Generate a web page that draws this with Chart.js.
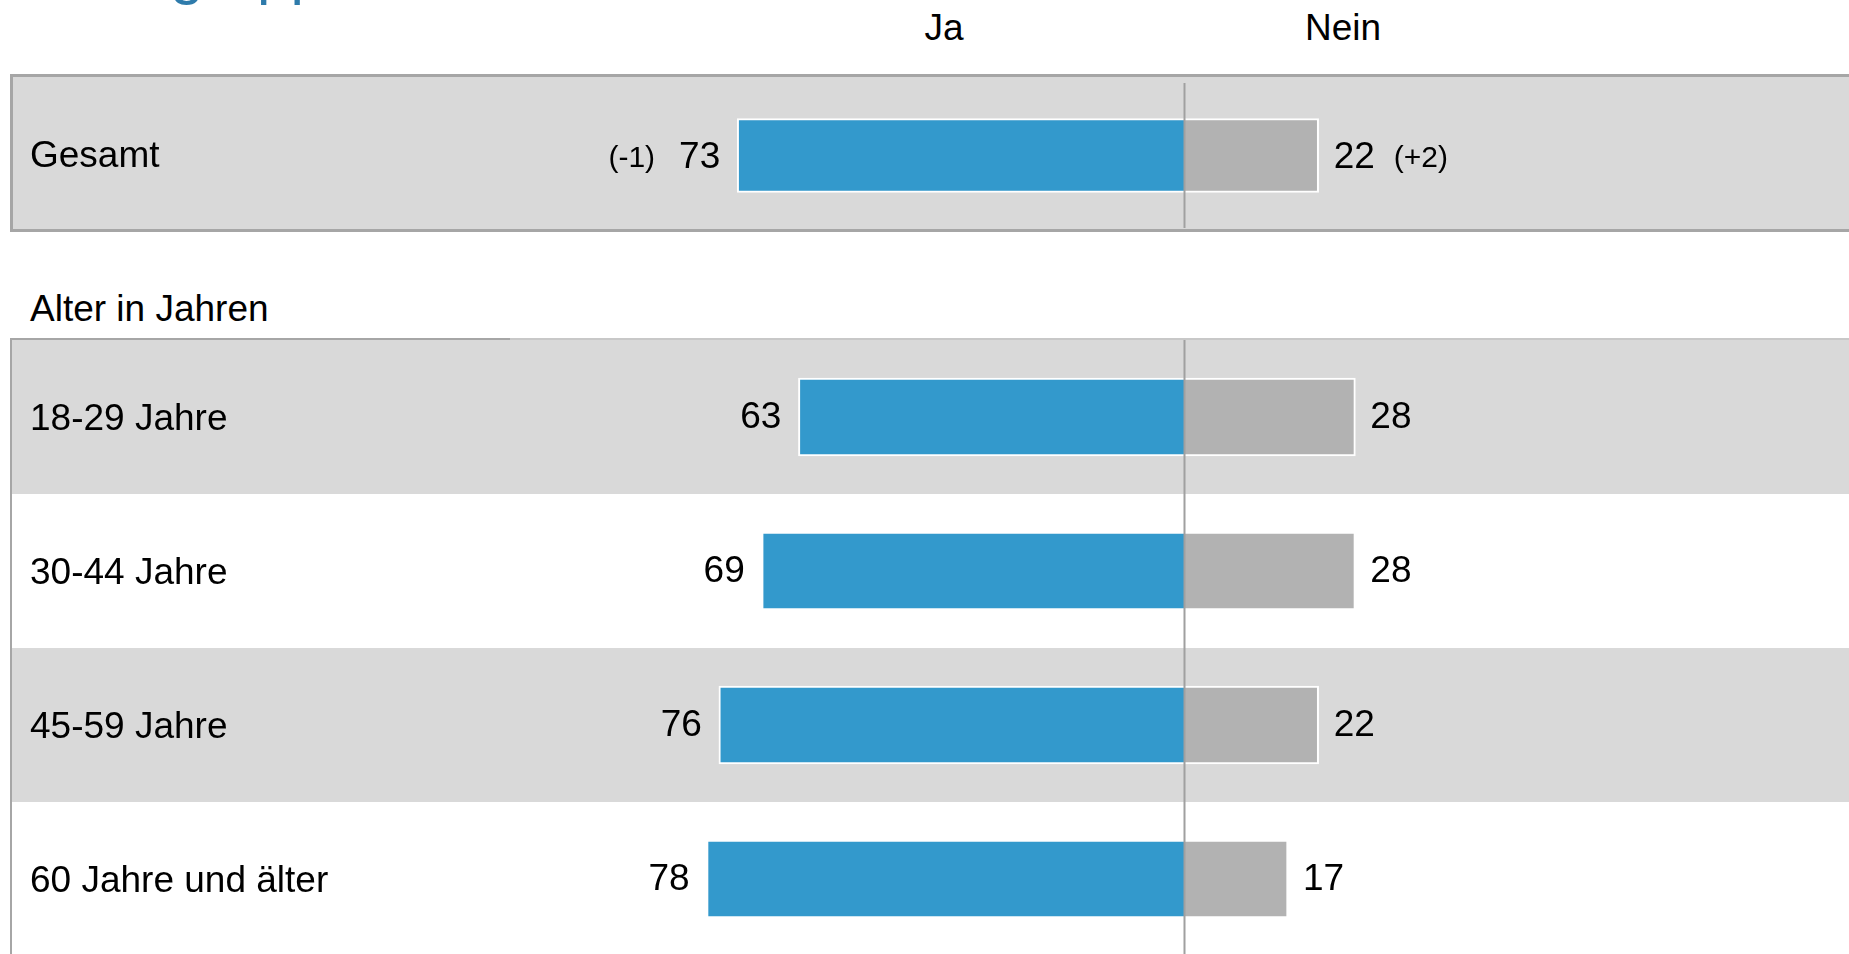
<!DOCTYPE html>
<html lang="de">
<head>
<meta charset="utf-8">
<title>Altersgruppen</title>
<script src="https://cdn.jsdelivr.net/npm/chart.js@4.4.1/dist/chart.umd.min.js"></script>
<style>
  html, body { margin: 0; padding: 0; background: #fff; }
  body {
    width: 1849px; height: 954px; overflow: hidden; position: relative;
    font-family: "Liberation Sans", Arial, sans-serif; color: #000;
  }
  .abs { position: absolute; white-space: nowrap; }
  #title { left: 17px; top: -57px; font-size: 60px; line-height: 60px; color: #2e7bab; }
  .head { top: 9px; width: 200px; text-align: center; font-size: 37px; line-height: 37px; }
  #box1 {
    left: 10px; top: 74px; width: 1860px; height: 152px;
    background: #d9d9d9; border: 3px solid #a6a6a6; border-right: none;
  }
  #section { left: 30px; top: 290px; font-size: 37px; line-height: 37px; }
  canvas { position: absolute; left: 0; }
  #c1 { top: 77px; }
  #c2 { top: 340px; }
  .rule { position: absolute; }
</style>
</head>
<body>
<div id="title" class="abs">Altersgruppen</div>
<div id="headJa" class="abs head" style="left:844px"></div>
<div id="headNein" class="abs head" style="left:1243px"></div>
<div id="box1" class="abs"></div>
<canvas id="c1" width="1849" height="152"></canvas>
<div id="section" class="abs">Alter in Jahren</div>
<canvas id="c2" width="1849" height="616"></canvas>
<div class="rule" style="left:10px;top:338px;width:2px;height:620px;background:#a6a6a6"></div>
<div class="rule" style="left:10px;top:338px;width:500px;height:2px;background:#a6a6a6"></div>
<div class="rule" style="left:510px;top:338px;width:1339px;height:2px;background:#c8c8c8"></div>

<script>
// data (percent)
const seriesNames = ["Ja", "Nein"];

const gesamtLabels = ["Gesamt"];
const gesamtJa = [73];
const gesamtNein = [22];
const gesamtJaDiff = [-1];
const gesamtNeinDiff = [2];

const ageGroups = ["18-29 Jahre", "30-44 Jahre", "45-59 Jahre", "60 Jahre und älter"];
const ageJa = [63, 69, 76, 78];
const ageNein = [28, 28, 22, 17];

const BLUE = "#3399cc";
const GREY = "#b2b2b2";
const FONT = '"Liberation Sans", Arial, sans-serif';

document.getElementById("headJa").textContent = seriesNames[0];
document.getElementById("headNein").textContent = seriesNames[1];

function formatDiff(v) {
  return v > 0 ? "(+" + v + ")" : "(" + v + ")";
}

// row bands, category labels, centre line and value labels
const rowDecor = {
  id: "rowDecor",
  beforeDatasetsDraw(chart, _args, opts) {
    if (!opts.bands) return;
    const { ctx, width } = chart;
    const y = chart.scales.y;
    const step = (chart.chartArea.bottom - chart.chartArea.top) / chart.data.labels.length;
    ctx.save();
    chart.data.labels.forEach((_, i) => {
      const c = y.getPixelForValue(i);
      ctx.fillStyle = opts.bands[i % opts.bands.length];
      ctx.fillRect(opts.bandLeft, c - step / 2, width - opts.bandLeft, step);
    });
    ctx.restore();
  },
  afterDatasetsDraw(chart, _args, opts) {
    const { ctx, chartArea } = chart;
    const x = chart.scales.x;
    const y = chart.scales.y;
    ctx.save();

    // centre line
    const x0 = Math.round(x.getPixelForValue(0)) + 0.5;
    ctx.strokeStyle = "#a0a0a0";
    ctx.lineWidth = 2;
    ctx.beginPath();
    ctx.moveTo(x0, chartArea.top);
    ctx.lineTo(x0, chartArea.bottom);
    ctx.stroke();

    ctx.fillStyle = "#000";
    ctx.textBaseline = "middle";

    // category labels
    ctx.font = "37px " + FONT;
    ctx.textAlign = "left";
    chart.data.labels.forEach((label, i) => {
      ctx.fillText(label, 30, y.getPixelForValue(i) + opts.labelShift);
    });

    // values
    const jaMeta = chart.getDatasetMeta(0);
    const neinMeta = chart.getDatasetMeta(1);
    const dy = opts.valueShift || 0;
    chart.data.labels.forEach((_, i) => {
      const ja = jaMeta.data[i];
      const nein = neinMeta.data[i];
      const jaText = String(Math.abs(chart.data.datasets[0].data[i]));
      const neinText = String(chart.data.datasets[1].data[i]);

      ctx.font = "37px " + FONT;
      ctx.textAlign = "right";
      ctx.fillText(jaText, ja.x - 17, ja.y + dy);
      const jaW = ctx.measureText(jaText).width;
      ctx.textAlign = "left";
      ctx.fillText(neinText, nein.x + 15, nein.y + dy);
      const neinW = ctx.measureText(neinText).width;

      ctx.font = "30px " + FONT;
      if (opts.jaDiff && opts.jaDiff[i] != null) {
        ctx.textAlign = "right";
        ctx.fillText(formatDiff(opts.jaDiff[i]), ja.x - 17 - jaW - 24, ja.y + dy + 1);
      }
      if (opts.neinDiff && opts.neinDiff[i] != null) {
        ctx.textAlign = "left";
        ctx.fillText(formatDiff(opts.neinDiff[i]), nein.x + 15 + neinW + 19, nein.y + dy + 1);
      }
    });
    ctx.restore();
  },
};

function makeChart(id, labels, ja, nein, thickness, decor, padding) {
  return new Chart(document.getElementById(id), {
    type: "bar",
    data: {
      labels: labels,
      datasets: [
        {
          label: seriesNames[0],
          data: ja.map((v) => -v),
          backgroundColor: BLUE,
          borderColor: "#ffffff",
          borderWidth: 2,
          borderSkipped: "start",
          barThickness: thickness,
        },
        {
          label: seriesNames[1],
          data: nein,
          backgroundColor: GREY,
          borderColor: "#ffffff",
          borderWidth: 2,
          borderSkipped: "start",
          barThickness: thickness,
        },
      ],
    },
    options: {
      indexAxis: "y",
      responsive: false,
      animation: false,
      devicePixelRatio: 1,
      layout: { padding: padding },
      scales: {
        x: { type: "linear", min: -100, max: 100, stacked: true, display: false },
        y: { stacked: true, display: false },
      },
      plugins: {
        legend: { display: false },
        tooltip: { enabled: false },
        rowDecor: decor,
      },
    },
    plugins: [rowDecor],
  });
}

makeChart("c1", gesamtLabels, gesamtJa, gesamtNein, 74, {
  labelShift: 1,
  valueShift: 2,
  jaDiff: gesamtJaDiff,
  neinDiff: gesamtNeinDiff,
}, { left: 572, right: 53, top: 6, bottom: 1 });

makeChart("c2", ageGroups, ageJa, ageNein, 78, {
  labelShift: 3,
  valueShift: 1,
  bands: ["#d9d9d9", "#ffffff"],
  bandLeft: 12,
}, { left: 572, right: 53, top: 0, bottom: 0 });
</script>
</body>
</html>
